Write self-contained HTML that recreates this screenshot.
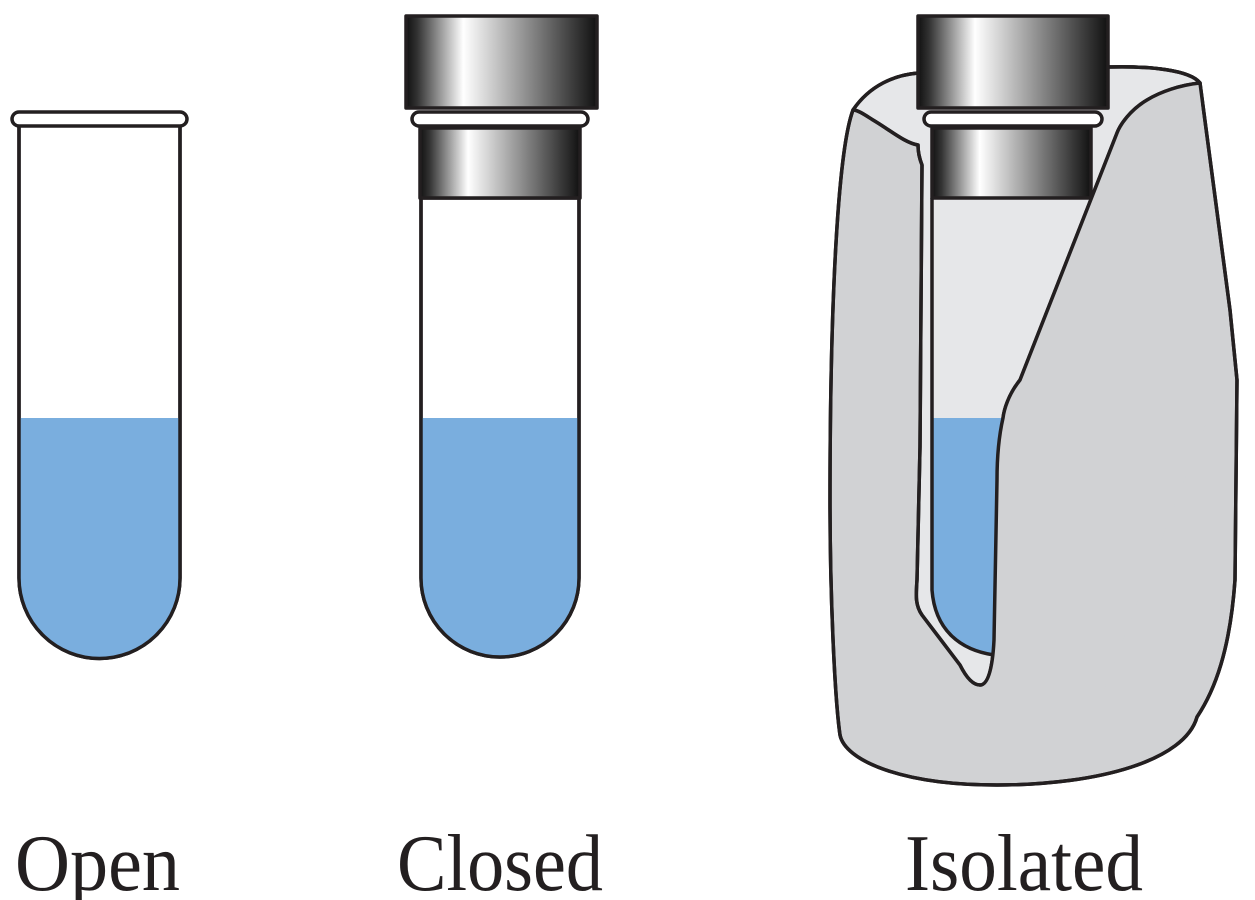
<!DOCTYPE html>
<html><head><meta charset="utf-8"><style>html,body{margin:0;padding:0;background:#fff}svg{display:block}</style></head>
<body>
<svg width="1255" height="900" viewBox="0 0 1255 900" xmlns="http://www.w3.org/2000/svg">
<defs>
<linearGradient id="cap" x1="0" x2="1" y1="0" y2="0">
<stop offset="0" stop-color="#111"/>
<stop offset="0.06" stop-color="#333"/>
<stop offset="0.3" stop-color="#fff"/>
<stop offset="0.55" stop-color="#aaa"/>
<stop offset="0.85" stop-color="#444"/>
<stop offset="1" stop-color="#111"/>
</linearGradient>
</defs>
<g stroke="#231f20" stroke-width="3.5" stroke-linejoin="round">
<!-- Open tube -->
<path d="M19,125 V578 A80.5,80.5 0 0 0 180,578 V125 Z" fill="#fff"/>
<path d="M19,418 H180 V578 A80.5,80.5 0 0 1 19,578 Z" fill="#7aaede" stroke="none"/>
<path d="M19,125 V578 A80.5,80.5 0 0 0 180,578 V125" fill="none"/>
<rect x="12" y="112" width="175" height="14" rx="7" fill="#fff"/>

<!-- Closed tube -->
<path d="M421,198 V578 A79,79 0 0 0 579,578 V198 Z" fill="#fff"/>
<path d="M421,418 H579 V578 A79,79 0 0 1 421,578 Z" fill="#7aaede" stroke="none"/>
<path d="M421,198 V578 A79,79 0 0 0 579,578 V198" fill="none"/>
<rect x="420" y="128" width="160" height="70" fill="url(#cap)"/>
<rect x="412" y="112" width="176" height="14" rx="7" fill="#fff"/>
<rect x="406" y="16" width="191" height="92" fill="url(#cap)"/>

<!-- Isolated container -->
<path d="M853,110 C870,85 895,75 918,73 L1110,67 C1150,66 1190,70 1200,83 L1230,310 L1237,380 L1235,580 C1230,650 1215,690 1197,717 C1185,760 1100,785 997,785 C900,785 845,760 840,735 C835,700 830,600 830,500 C830,300 838,150 853,110 Z" fill="#d1d2d4"/>
<path d="M853,110 C870,85 895,75 918,73 L1110,67 C1150,66 1190,70 1200,83 C1180,85 1160,92 1147,100 C1130,110 1120,125 1117,133 L1020,380 C1008,395 1004,410 1003,418 C998,440 997,460 997,480 L994,640 C993,660 990,685 980,685 C972,685 965,675 960,665 L922,615 C915,605 916,595 917,580 L920,447 L922,165 C920,160 918,152 918,145 C905,143 890,130 873,120 C865,115 858,110 853,110 Z" fill="#e6e7e9"/>
<path d="M932,418 H1003 L997,480 L994,655 C960,650 935,630 932,590 Z" fill="#7aaede" stroke="none"/>
<path d="M932,198 V590 C935,630 960,650 994,655" fill="none"/>
<path d="M1200,83 C1180,85 1160,92 1147,100 C1130,110 1120,125 1117,133 L1020,380 C1008,395 1004,410 1003,418 C998,440 997,460 997,480 L994,640 C993,660 990,685 980,685 L1100,700 L1215,400 Z" fill="#d1d2d4" stroke="none"/>
<path d="M1200,83 C1180,85 1160,92 1147,100 C1130,110 1120,125 1117,133 L1020,380 C1008,395 1004,410 1003,418 C998,440 997,460 997,480 L994,640 C993,660 990,685 980,685 C972,685 965,675 960,665 L922,615 C915,605 916,595 917,580 L920,447 L922,165 C920,160 918,152 918,145 C905,143 890,130 873,120 C865,115 858,110 853,110" fill="none"/>
<path d="M853,110 C870,85 895,75 918,73 L1110,67 C1150,66 1190,70 1200,83 L1230,310 L1237,380 L1235,580 C1230,650 1215,690 1197,717 C1185,760 1100,785 997,785 C900,785 845,760 840,735 C835,700 830,600 830,500 C830,300 838,150 853,110 Z" fill="none"/>
<rect x="932" y="128" width="159" height="70" fill="url(#cap)"/>
<rect x="924" y="112" width="178" height="14" rx="7" fill="#fff"/>
<rect x="918" y="16" width="190" height="92" fill="url(#cap)"/>
</g>
<g font-family="'Liberation Serif', serif" font-size="80" fill="#231f20">
<text x="15" y="890" textLength="165" lengthAdjust="spacingAndGlyphs">Open</text>
<text x="397" y="890" textLength="206" lengthAdjust="spacingAndGlyphs">Closed</text>
<text x="905" y="890" textLength="238" lengthAdjust="spacingAndGlyphs">Isolated</text>
</g>
</svg>
</body></html>
